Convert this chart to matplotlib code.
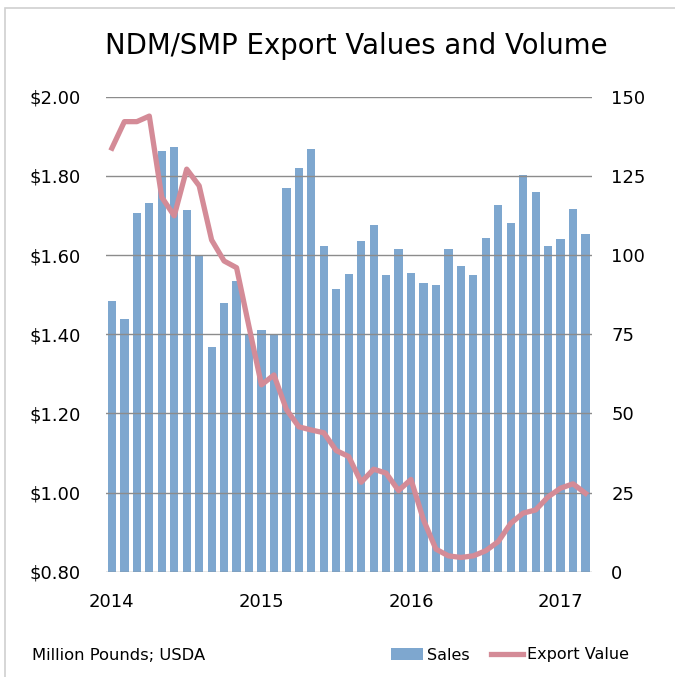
import matplotlib
matplotlib.use('Agg')
import matplotlib.pyplot as plt
from matplotlib.patches import Rectangle
import numpy as np

plt.rcParams['font.family'] = ['DejaVu Sans']

# monthly, Jan 2014 - Mar 2017
sales = [85.5, 79.7, 113.2, 116.4, 133.0, 134.1, 114.2, 99.9, 70.9, 84.8, 91.8, 75.0,
         76.4, 74.6, 121.3, 127.4, 133.5, 102.8, 89.2, 94.0, 104.3, 109.5, 93.7, 101.8,
         94.4, 91.1, 90.6, 101.8, 96.5, 93.7, 105.4, 115.7, 110.2, 125.3, 119.8, 102.8,
         105.1, 114.6, 106.5]
export_value = [1.87, 1.937, 1.937, 1.951, 1.746, 1.699, 1.817, 1.775, 1.638, 1.585, 1.568, 1.419,
                1.272, 1.297, 1.21, 1.166, 1.158, 1.151, 1.106, 1.091, 1.026, 1.059, 1.049, 1.005,
                1.033, 0.931, 0.857, 0.840, 0.836, 0.840, 0.853, 0.876, 0.922, 0.948, 0.956, 0.989,
                1.011, 1.022, 0.998]
year_labels = ['2014', '2015', '2016', '2017']
left_ticks = [0.8, 1.0, 1.2, 1.4, 1.6, 1.8, 2.0]
right_ticks = [0, 25, 50, 75, 100, 125, 150]

bar_col = '#7ea7cf'
line_col = '#d48b97'
grid_col = '#8c8c8c'

fig = plt.figure(figsize=(6.75, 6.77), dpi=100)
# chart frame
fig.patches.append(Rectangle((5/675, -0.1), 1.1, 1 - 8/677 + 0.1, transform=fig.transFigure,
                             fill=False, edgecolor='#d0d0d0', lw=1.2))

ax = fig.add_axes([105.7/675, 1 - 571.7/677, 486/675, 475/677])
ax2 = ax.twinx()

x = np.arange(len(sales))
# bars on the volume (right) axis, line on the price (left) axis
ax2.bar(x, sales, width=0.66, color=bar_col, zorder=2, label='Sales')
ax2.set_ylim(0, 150)
ax2.set_yticks(right_ticks)

ax.set_ylim(0.8, 2.0)
ax.set_yticks(left_ticks)
ax.set_yticklabels(['$%.2f' % v for v in left_ticks])
for v in left_ticks:
    ax.axhline(v, color=grid_col, lw=1, zorder=0)

ax.set_zorder(ax2.get_zorder() + 1)
ax.patch.set_visible(False)
ax.plot(x, export_value, color=line_col, lw=3.8, solid_joinstyle='round', zorder=5, label='Export Value')

ax.set_xlim(-0.5, len(sales) - 0.5)
ax.set_xticks([0, 12, 24, 36])
ax.set_xticklabels(year_labels)

for a in (ax, ax2):
    for s in a.spines.values():
        s.set_visible(False)
    a.tick_params(length=0, labelsize=13)
ax.tick_params(axis='y', pad=18)
ax.tick_params(axis='x', pad=15)
ax2.tick_params(axis='y', pad=14)

fig.text(356/675, 1 - 46/677, 'NDM/SMP Export Values and Volume', ha='center', va='center', fontsize=19.8)
fig.text(32/675, 1 - 655/677, 'Million Pounds; USDA', ha='left', va='center', fontsize=11.8)

h1, l1 = ax2.get_legend_handles_labels()
h2, l2 = ax.get_legend_handles_labels()
fig.legend(h1 + h2, l1 + l2, loc='center', bbox_to_anchor=(510/675, 1 - 655/677), ncol=2,
           frameon=False, fontsize=11.5, handlelength=2.0, handleheight=0.7, columnspacing=1.3,
           handletextpad=0.25)

fig.savefig('out.png', dpi=100)
